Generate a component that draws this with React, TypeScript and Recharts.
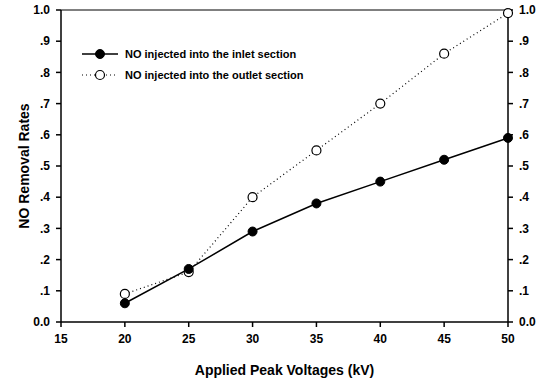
import React from 'react';
import { LineChart, Line, XAxis, YAxis, ReferenceLine } from 'recharts';

const voltages = [20, 25, 30, 35, 40, 45, 50];
const inletRates = [0.06, 0.17, 0.29, 0.38, 0.45, 0.52, 0.59];
const outletRates = [0.09, 0.16, 0.40, 0.55, 0.70, 0.86, 0.99];
const xTicks = [15, 20, 25, 30, 35, 40, 45, 50];
const yTicks = [0, 0.1, 0.2, 0.3, 0.4, 0.5, 0.6, 0.7, 0.8, 0.9, 1.0];
const seriesNames = ['NO injected into the inlet section', 'NO injected into the outlet section'];

const data = voltages.map((v, i) => ({ v, inlet: inletRates[i], outlet: outletRates[i] }));

const fmtY = (t: number) => (t === 0 ? '0.0' : t >= 1 ? '1.0' : '.' + Math.round(t * 10));

const FONT = '"Liberation Sans", Arial, sans-serif';

const LegendBox = () => (
  <svg width={260} height={40} style={{ position: 'absolute', left: 82, top: 48, overflow: 'visible' }}>
    <line x1={0} y1={6} x2={36} y2={6} stroke="#000" strokeWidth={1.5} />
    <circle cx={18} cy={6} r={4.5} fill="#000" stroke="#000" />
    <text x={43} y={10} fontFamily={FONT} fontWeight="bold" fontSize={11} fill="#000">{seriesNames[0]}</text>
    <line x1={0} y1={27} x2={36} y2={27} stroke="#000" strokeWidth={1.2} strokeDasharray="1 3" />
    <circle cx={18} cy={27} r={4.5} fill="#fff" stroke="#000" strokeWidth={1.2} />
    <text x={43} y={31} fontFamily={FONT} fontWeight="bold" fontSize={11} fill="#000">{seriesNames[1]}</text>
  </svg>
);

export default function App() {
  const tickStyle = { fontFamily: FONT, fontWeight: 'bold' as const, fontSize: 12, fill: '#000' };
  return (
    <div style={{ position: 'absolute', left: 0, top: 0, width: 550, height: 379, background: '#fff' }}>
      <LineChart width={550} height={379} data={data} margin={{ top: 10, right: 0, bottom: 0, left: 0 }}>
        <XAxis
          dataKey="v"
          type="number"
          domain={[15, 50]}
          ticks={xTicks}
          height={57}
          stroke="#000"
          strokeWidth={1.5}
          tickSize={5}
          tick={tickStyle}
          tickMargin={7}
          label={{ value: 'Applied Peak Voltages (kV)', position: 'insideBottom', offset: 4, style: { fontFamily: FONT, fontWeight: 'bold', fontSize: 14, fill: '#000' } }}
        />
        <YAxis
          yAxisId="left"
          domain={[0, 1]}
          ticks={yTicks}
          width={61}
          stroke="#000"
          strokeWidth={1.5}
          tickSize={5}
          tickMargin={6}
          tick={tickStyle}
          tickFormatter={fmtY}
          interval={0}
          label={{ value: 'NO Removal Rates', angle: -90, position: 'insideLeft', offset: 24, style: { fontFamily: FONT, fontWeight: 'bold', fontSize: 14, fill: '#000', textAnchor: 'middle' } }}
        />
        <YAxis
          yAxisId="right"
          orientation="right"
          domain={[0, 1]}
          ticks={yTicks}
          width={42}
          stroke="#000"
          strokeWidth={1.5}
          tickSize={5}
          tickMargin={6}
          tick={{ ...tickStyle, textAnchor: 'start' }}
          tickFormatter={fmtY}
          interval={0}
        />
        <ReferenceLine yAxisId="left" y={1} stroke="#000" strokeWidth={1} />
        <Line
          yAxisId="right"
          dataKey="outlet"
          stroke="#000"
          strokeWidth={1.2}
          strokeDasharray="1 3"
          dot={{ r: 4.5, fill: '#fff', stroke: '#000', strokeWidth: 1.2, strokeDasharray: '' }}
          isAnimationActive={false}
        />
        <Line
          yAxisId="left"
          dataKey="inlet"
          stroke="#000"
          strokeWidth={1.5}
          dot={{ r: 4.5, fill: '#000', stroke: '#000', strokeWidth: 1 }}
          isAnimationActive={false}
        />
      </LineChart>
      <LegendBox />
    </div>
  );
}
